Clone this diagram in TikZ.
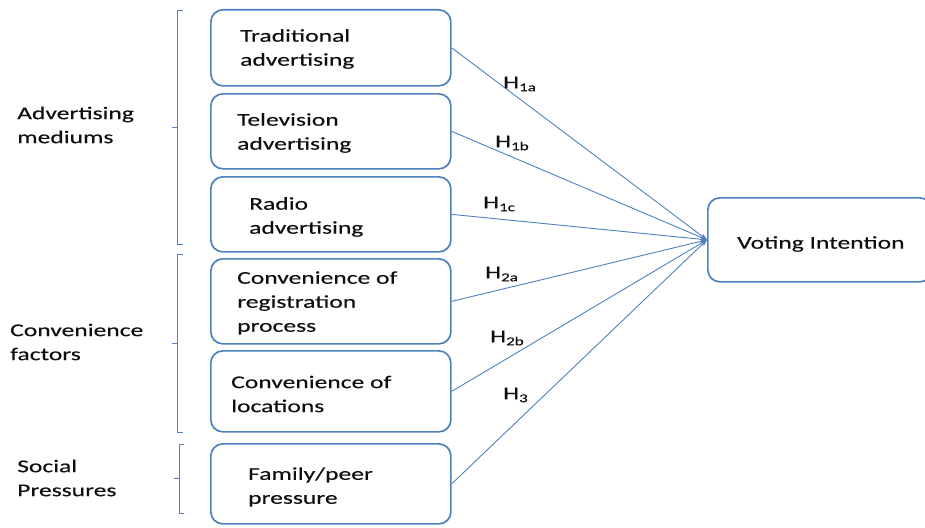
\documentclass[tikz,border=0pt]{standalone}
\usepackage{fontspec}
\setmainfont{Carlito}[FakeStretch=1.42,FakeBold=0.3]
\usetikzlibrary{arrows.meta}
\definecolor{accent}{RGB}{79,129,189}
\definecolor{txt}{RGB}{15,15,15}
\tikzset{
  box/.style={draw=accent, line width=1.7pt, rounded corners=12pt, minimum width=#1, anchor=north west, inner sep=0pt},
  lbl/.style={anchor=west, align=left, inner sep=0pt, font=\fontsize{18}{24}\selectfont, text=txt},
  hyp/.style={anchor=west, inner sep=0pt, font=\fontsize{18}{24}\selectfont, text=txt},
  conn/.style={draw=accent, line width=0.9pt, -{Stealth[length=7pt,width=5pt]}},
  brk/.style={draw=accent, line width=0.9pt}
}
\newcommand{\hsub}[1]{H\raisebox{-0.35ex}{\fontsize{12}{12}\selectfont #1}}
\begin{document}
\begin{tikzpicture}[x=1pt,y=-1pt]
\useasboundingbox (0,0) rectangle (925,527);
% boxes
\node[box=240pt, minimum height=76pt] (b1) at (210,9) {};
\node[box=240pt, minimum height=75pt] (b2) at (210,93) {};
\node[box=240pt, minimum height=75pt] (b3) at (210,176) {};
\node[box=240pt, minimum height=85pt] (b4) at (210,258) {};
\node[box=240pt, minimum height=81pt] (b5) at (210,350) {};
\node[box=240pt, minimum height=80pt] (b6) at (210,443) {};
\node[box=224pt, minimum height=84pt] (vi) at (707,197) {};
% box texts
\node[lbl] (t1) at (240,49) {Traditional\\advertising};
\node[lbl] (t2) at (237,133) {Television\\advertising};
\node[lbl] (t3) at (249,217) {Radio\\advertising};
\node[lbl] (t4) at (237,303) {Convenience of\\registration\\process};
\node[lbl] (t5) at (231,394) {Convenience of\\locations};
\node[lbl] (t6) at (248,487) {Family/peer\\pressure};
\node[lbl] (tv) at (737,244) {Voting Intention};
% group labels
\node[lbl] (g1) at (17,125) {Advertising\\mediums};
\node[lbl] (g2) at (10,342) {Convenience\\factors};
\node[lbl] (g3) at (17,478) {Social\\Pressures};
% brackets
\draw[brk] (183,10) -- (177,10) -- (177,244) -- (183,244);
\draw[brk] (177,127) -- (172,127);
\draw[brk] (183,254) -- (177,254) -- (177,432) -- (183,432);
\draw[brk] (177,343) -- (172,343);
\draw[brk] (184,444) -- (179,444) -- (179,513) -- (184,513);
\draw[brk] (179,478) -- (174,478);
% connectors
\draw[conn] (b1.east) -- (vi.west);
\draw[conn] (b2.east) -- (vi.west);
\draw[conn] (b3.east) -- (vi.west);
\draw[conn] (b4.east) -- (vi.west);
\draw[conn] (b5.east) -- (vi.west);
\draw[conn] (b6.east) -- (vi.west);
% hypothesis labels
\node[hyp] (h1a) at (503,84) {\hsub{1a}};
\node[hyp] (h1b) at (495,143) {\hsub{1b}};
\node[hyp] (h1c) at (483,204) {\hsub{1c}};
\node[hyp] (h2a) at (485,274) {\hsub{2a}};
\node[hyp] (h2b) at (490,338) {\hsub{2b}};
\node[hyp] (h3) at (503,395) {\hsub{3}};
\end{tikzpicture}
\end{document}
